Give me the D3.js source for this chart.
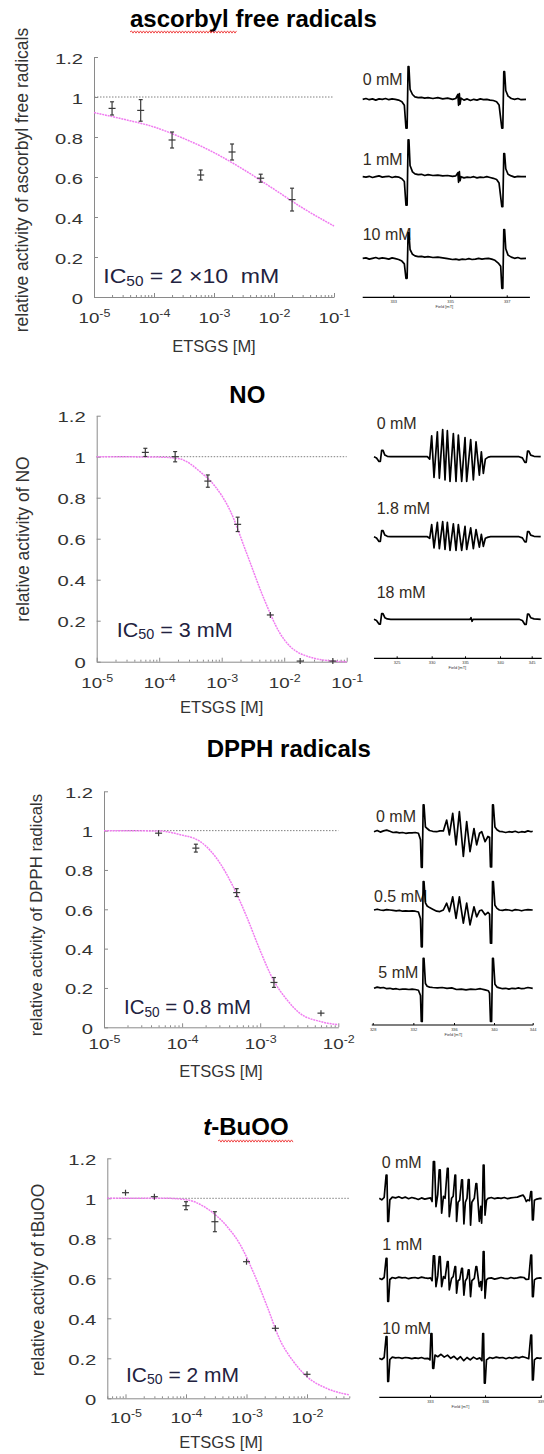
<!DOCTYPE html>
<html>
<head>
<meta charset="utf-8">
<title>ETSGS radical scavenging</title>
<script src="https://cdn.jsdelivr.net/npm/d3@7"></script>
<style>
  body { margin: 0; background: #fff; }
  svg { display: block; font-family: "Liberation Sans", Arial, sans-serif; }
</style>
</head>
<body>
<svg id="fig" width="544" height="1454"></svg>
<script>
// y ticks shared by the four dose-response plots
const yTicks = [0, 0.2, 0.4, 0.6, 0.8, 1, 1.2];

// ascorbyl free radicals
const ascDecades = [-5, -4, -3, -2, -1];
const ascConc = [2e-5, 6e-5, 2e-4, 6e-4, 2e-3, 6e-3, 2e-2];
const ascAct = [0.943, 0.933, 0.785, 0.61, 0.725, 0.594, 0.487];
const ascErr = [0.033, 0.054, 0.04, 0.025, 0.04, 0.02, 0.057];
const ascFitConc = [1e-5, 3e-5, 1e-4, 3e-4, 1e-3, 3e-3, 1e-2, 3e-2, 1e-1];
const ascFitAct = [0.922, 0.89, 0.85, 0.795, 0.722, 0.64, 0.539, 0.445, 0.355];
const ascIC50 = '2 ×10  mM';

// NO
const noDecades = [-5, -4, -3, -2, -1];
const noConc = [6e-5, 1.8e-4, 6e-4, 1.8e-3, 6e-3, 1.8e-2, 6e-2];
const noAct = [1.021, 1.0, 0.881, 0.67, 0.228, 0.003, 0.003];
const noErr = [0.02, 0.025, 0.03, 0.035, 0.01, 0.005, 0.005];
const noFitConc = [1e-5, 1e-4, 2.1e-4, 4.5e-4, 7.9e-4, 1.35e-3, 2.5e-3, 4.7e-3, 8.5e-3, 1.8e-2, 6e-2, 1e-1];
const noFitAct = [1.0, 0.998, 0.99, 0.927, 0.854, 0.74, 0.53, 0.31, 0.14, 0.04, 0.003, 0.0];
const noIC50 = '3 mM';

// DPPH radicals
const dpphDecades = [-5, -4, -3, -2];
const dpphConc = [5e-5, 1.5e-4, 5e-4, 1.5e-3, 6e-3];
const dpphAct = [0.987, 0.911, 0.685, 0.228, 0.072];
const dpphErr = [0.015, 0.02, 0.02, 0.025, 0.01];
const dpphFitConc = [1e-5, 5.2e-5, 9.3e-5, 1.7e-4, 3.05e-4, 4.5e-4, 6.7e-4, 9.9e-4, 1.47e-3, 2.2e-3, 3.2e-3, 5.8e-3, 1e-2];
const dpphFitAct = [1.0, 0.998, 0.98, 0.945, 0.835, 0.716, 0.563, 0.394, 0.241, 0.14, 0.072, 0.03, 0.013];
const dpphIC50 = '0.8 mM';

// t-BuOO
const tbuDecades = [-5, -4, -3, -2];
const tbuConc = [1e-5, 3e-5, 1e-4, 3e-4, 1e-3, 3e-3, 1e-2];
const tbuAct = [1.028, 1.008, 0.963, 0.883, 0.683, 0.35, 0.12];
const tbuErr = [0.015, 0.01, 0.02, 0.05, 0.015, 0.015, 0.012];
const tbuFitConc = [5e-6, 4.9e-5, 1.05e-4, 2.2e-4, 4.8e-4, 7.9e-4, 1.32e-3, 2.2e-3, 3.6e-3, 6e-3, 1e-2, 2.1e-2, 5e-2];
const tbuFitAct = [1.0, 1.0, 0.992, 0.95, 0.858, 0.767, 0.625, 0.458, 0.29, 0.183, 0.108, 0.05, 0.017];
const tbuIC50 = '2 mM';

// ESR spectra: [field position 0-100, intensity a.u.]
const asc0mM = [[0,0],[2,2],[4,-1],[6,1],[8,-2],[10,1],[12,0],[14,2],[16,-1],[18,1],[20,0],[22,-2],[24,-6],[25.5,-15],[26.5,-72],[27.2,-72],[27.8,82],[28.3,82],[29,25],[30.5,12],[32,6],[34,4],[36,5],[38,3],[40,4],[43,2],[46,4],[49,1],[52,3],[55,0],[57,2],[58.3,12],[58.7,-15],[59.2,14],[59.6,-12],[60.2,3],[62,-2],[64,1],[66,-3],[68,0],[70,-2],[72,1],[74,-1],[76,0],[78,-2],[80,-3],[82,-6],[83.5,-14],[85.2,-72],[85.8,-72],[86.4,69],[86.9,69],[87.6,22],[89,8],[91,2],[93,0],[95,2],[97,-1],[100,0]];
const asc1mM = [[0,0],[2,-1],[4,1],[6,-2],[8,0],[10,2],[12,-1],[14,0],[16,1],[18,-2],[20,0],[22,-1],[24,-5],[25.5,-12],[26.5,-71],[27.2,-71],[27.8,92],[28.3,92],[29,28],[30.5,12],[32,7],[34,5],[36,6],[38,3],[40,5],[43,3],[46,4],[49,2],[52,3],[55,1],[57,2],[58.3,10],[58.7,-14],[59.2,13],[59.6,-10],[60.2,0],[62,-3],[64,-1],[66,-2],[68,0],[70,-3],[72,-1],[74,-2],[76,0],[78,-2],[80,-4],[82,-7],[83.5,-16],[85.2,-75],[85.8,-75],[86.4,58],[86.9,58],[87.6,20],[89,6],[91,2],[93,-1],[95,1],[97,0],[100,0]];
const asc10mM = [[0,0],[2,1],[4,-2],[6,0],[8,2],[10,-1],[12,1],[14,0],[16,-2],[18,1],[20,-1],[22,-3],[24,-7],[25.5,-14],[26.5,-50],[27.2,-50],[27.8,64],[28.3,64],[29,22],[30.5,10],[32,6],[34,4],[36,5],[38,3],[40,4],[43,2],[46,3],[49,1],[52,-1],[55,-3],[57,-2],[59,-4],[61,-2],[63,-3],[65,-1],[67,-3],[69,-2],[71,0],[73,-2],[75,-1],[77,0],[79,-2],[81,-5],[83,-12],[84.5,-20],[85.2,-75],[85.8,-75],[86.4,72],[86.9,72],[87.6,24],[89,8],[91,3],[93,0],[95,2],[97,-1],[100,0]];

const no0mM = [[0,0],[1.5,-3],[3,-12],[3.8,-12],[4.6,16],[5.4,16],[6.5,4],[8,1],[10,0],[32,0],[33.4,-6],[34.6,52],[36,-52],[38,62],[39.2,-54],[41.2,68],[42.6,-58],[44,65],[45.6,-62],[47.6,58],[49.2,-62],[50.6,54],[52.6,-62],[54.6,48],[55.6,-62],[58,43],[59.6,-58],[61.2,37],[63.2,-46],[64.4,12],[65.6,-42],[66.8,-6],[68.5,-1],[70,0],[87,0],[89,-3],[90.5,-14],[91.3,-14],[92.1,14],[92.9,14],[94,4],[96,1],[100,0]];
const no1p8mM = [[0,0],[1.5,-3],[3,-12],[3.8,-12],[4.6,15],[5.4,15],[6.5,4],[8,1],[10,0],[32,0],[33.4,-4],[34.6,30],[36,-28],[38,36],[39.2,-30],[41.2,38],[42.6,-32],[44,36],[45.6,-34],[47.6,32],[49.2,-34],[50.6,30],[52.6,-34],[54.6,26],[55.6,-32],[58,22],[59.6,-30],[61.2,18],[63.2,-26],[64.4,6],[65.6,-24],[66.8,-4],[68.5,-1],[70,0],[87,0],[89,-3],[90.5,-13],[91.3,-13],[92.1,13],[92.9,13],[94,4],[96,1],[100,0]];
const no18mM = [[0,0],[1.5,-3],[3,-12],[3.8,-12],[4.6,14],[5.4,14],[6.5,4],[8,1],[10,0],[57.6,0],[58.2,4],[58.8,-5],[59.4,0],[87,0],[89,-3],[90.5,-13],[91.3,-13],[92.1,13],[92.9,13],[94,4],[96,1],[100,0]];

const dpph0mM = [[0,0],[2,3],[4,-1],[6,2],[8,4],[10,1],[12,-2],[14,-1],[16,-3],[18,-2],[20,-4],[22,-3],[24,-3],[26,-2],[28,-4],[29.3,-20],[29.8,-89],[30.4,-89],[31,67],[31.5,67],[32.4,12],[33.5,8],[35,3],[37,1],[39.5,0],[41.5,2],[43.7,2],[45.8,29],[47.5,-8],[49.6,46],[51.7,-33],[53.8,50],[56.3,-62],[58.4,25],[60.5,-50],[63,8],[64.7,-33],[66.5,-4],[67.9,0],[70,-25],[71.8,-12],[72.8,-14],[73.4,-88],[74.1,-88],[74.7,67],[75.2,67],[76.2,12],[77.5,5],[79,1],[81,0],[83,-2],[85,0],[87,-1],[89,1],[91,-2],[93,0],[95,-1],[97,2],[99,0],[100,1]];
const dpph05mM = [[0,0],[2,2],[4,0],[6,-1],[8,1],[10,0],[12,-1],[14,-2],[16,-1],[18,-3],[20,-2],[22,-3],[24,-2],[26,-3],[28,-5],[29.3,-22],[29.8,-92],[30.4,-92],[31,71],[31.5,71],[32.4,18],[33.5,10],[35,6],[37,2],[39.5,-3],[41.5,-4],[43.7,0],[45.8,17],[47.5,-4],[49.6,33],[51.7,-21],[53.8,33],[56.3,-33],[58.4,17],[60.5,-37],[63,8],[64.7,-17],[66.5,-2],[67.9,0],[70,-12],[71.8,-6],[72.8,-10],[73.4,-83],[74.1,-83],[74.7,71],[75.2,71],[76.2,12],[77.5,4],[79,0],[81,-1],[83,1],[85,0],[87,-2],[89,1],[91,0],[93,-2],[95,0],[97,1],[100,0]];
const dpph5mM = [[0,0],[2,3],[4,1],[6,2],[8,-1],[10,0],[12,-2],[14,-1],[16,-3],[18,-2],[20,-2],[22,-3],[24,-2],[26,-3],[28,-5],[29.3,-18],[29.8,-83],[30.4,-83],[31,75],[31.5,75],[32.4,12],[33.5,5],[35,3],[37,2],[40,1],[43,2],[46,0],[49,1],[52,-3],[55,-2],[58,-4],[61,-2],[64,-3],[67,-1],[70,-4],[72,-6],[72.8,-12],[73.4,-83],[74.1,-83],[74.7,75],[75.2,75],[76.2,10],[77.5,3],[79,1],[81,-1],[83,0],[85,-2],[87,0],[89,-1],[91,1],[93,-1],[95,0],[97,2],[100,0]];

const tbu0mM = [[0,0],[1.5,-4],[3,2],[4.2,58],[4.7,58],[5.2,-58],[5.7,-58],[6.5,-4],[8,3],[10,1],[12,4],[14,0],[16,3],[18,-1],[20,2],[22,0],[24,-3],[26,1],[28,-2],[30,0],[31.5,1],[32.5,-8],[33.3,92],[34,92],[34.9,-21],[36,10],[36.9,71],[37.5,71],[38.4,-37],[39.5,5],[40.5,0],[41.9,75],[42.4,75],[43.1,-46],[44.5,0],[45.5,5],[46.6,58],[47,58],[47.6,-58],[48.5,-10],[49.5,-5],[50.7,46],[51.2,46],[52.1,-64],[53,-10],[54,0],[54.8,47],[55.3,47],[56.2,-67],[57,-10],[58.5,0],[59.5,37],[60,37],[61.6,-58],[62.5,-20],[63,-62],[63.6,0],[64,83],[64.5,83],[65.1,-42],[66,-5],[67,0],[69,2],[71,-1],[73,1],[75,0],[77,2],[79,-1],[81,1],[83,2],[85,3],[87,6],[88.5,8],[89.5,2],[90.5,-8],[91.5,-4],[92.5,-6],[93.3,17],[93.8,17],[94.3,-54],[94.8,-54],[95.5,-5],[97,-2],[99,0],[100,-1]];
const tbu1mM = [[0,0],[1.5,-3],[3,2],[4.2,50],[4.7,50],[5.2,-58],[5.7,-58],[6.5,-3],[8,2],[10,0],[12,3],[14,1],[16,2],[18,-1],[20,1],[22,2],[24,0],[26,3],[28,1],[30,0],[31.5,1],[32.5,-6],[33.3,56],[34,56],[34.9,-21],[36,6],[36.9,54],[37.5,54],[38.4,-21],[39.5,4],[40.5,0],[41.9,42],[42.4,42],[43.1,-29],[44.5,0],[45.5,4],[46.6,29],[47,29],[47.6,-37],[48.5,-6],[49.5,-3],[50.7,25],[51.2,25],[52.1,-42],[53,-6],[54,0],[54.8,21],[55.3,21],[56.2,-46],[57,-6],[58.5,0],[59.5,29],[60,29],[61.6,-21],[62.5,-8],[63,-30],[63.6,0],[64,67],[64.5,67],[65.1,-50],[66,-4],[67,0],[69,1],[71,-2],[73,0],[75,2],[77,0],[79,-1],[81,2],[83,0],[85,1],[87,3],[89,2],[90.5,-3],[92,-2],[93.3,58],[93.8,58],[94.3,-46],[94.8,-46],[95.5,-4],[97,0],[99,1],[100,0]];
const tbu10mM = [[0,0],[1.5,-3],[3,2],[4.2,54],[4.7,54],[5.2,-58],[5.7,-58],[6.5,-3],[8,3],[10,1],[12,2],[14,0],[16,2],[18,1],[20,-1],[22,1],[24,0],[26,2],[28,-1],[30,0],[31.2,-4],[31.8,62],[32.4,62],[32.9,-25],[33.5,-25],[34.3,8],[36,4],[38,10],[40,3],[42,8],[44,0],[46,5],[48,-3],[50,4],[52,-6],[54,2],[56,-4],[58,3],[60,-2],[62,1],[63.2,-6],[63.7,62],[64.2,62],[64.7,-62],[65.2,-62],[66,-4],[68,2],[70,0],[72,3],[74,1],[76,2],[78,-1],[80,2],[82,0],[84,3],[86,1],[88,4],[90,2],[92,-1],[93.3,58],[93.8,58],[94.3,-54],[94.8,-54],[95.5,-4],[97,1],[99,0],[100,1]];

// spectrum field-axis ticks (position 0-100) and their labels
const ascSpecTicks = [18.7, 53.5, 88.2];
const ascSpecTickLabels = ['333', '335', '337'];
const noSpecTicks = [13.6, 34.6, 54.6, 75.6, 94.6];
const noSpecTickLabels = ['325', '330', '335', '340', '345'];
const dpphSpecTicks = [-0.8, 24.8, 50.4, 75.6, 100];
const dpphSpecTickLabels = ['328', '332', '336', '340', '344'];
const tbuSpecTicks = [31.2, 65.1, 99.4];
const tbuSpecTickLabels = ['333', '336', '339'];

const svg = d3.select('#fig');
const AXIS_GREY = '#8a8a8a';
const TEXT_DARK = '#333';

const panels = [
  {
    title: [{ text: 'ascorbyl free radicals' }], titleX: 130, titleY: 26.5, squiggle: [130, 237, 32],
    yLabel: 'relative activity of ascorbyl free radicals', yLabelX: 28, yLabelY: 180, yLabelSize: 17.5,
    left: 94, right: 334, bottom: 297, top: 57, xDomain: [1e-5, 1e-1], decades: ascDecades, tickDy: 26.3,
    xLabelX: 214, xLabelY: 351.7,
    conc: ascConc, act: ascAct, err: ascErr, fitConc: ascFitConc, fitAct: ascFitAct,
    ic50: ascIC50, icX: 103.3, icY: 283.3, icW: 176,
    spec: {
      left: 362.7, right: 526, axisY: 297.3, axisSpan: [0, 102.4], ticks: ascSpecTicks, tickLabels: ascSpecTickLabels,
      traces: [
        { data: asc0mM, base: 99.3, label: '0 mM', lx: 362.7, ly: 85 },
        { data: asc1mM, base: 176.7, label: '1 mM', lx: 362.7, ly: 165 },
        { data: asc10mM, base: 258.3, label: '10 mM', lx: 362.7, ly: 240 }
      ]
    }
  },
  {
    title: [{ text: 'NO' }], titleX: 229.3, titleY: 403.3,
    yLabel: 'relative activity of NO', yLabelX: 29, yLabelY: 539, yLabelSize: 17.5,
    left: 96.7, right: 346.7, bottom: 661.7, top: 415.7, xDomain: [1e-5, 1e-1], decades: noDecades, tickDy: 26.6,
    xLabelX: 221.7, xLabelY: 713,
    conc: noConc, act: noAct, err: noErr, fitConc: noFitConc, fitAct: noFitAct,
    ic50: noIC50, icX: 116.7, icY: 636.7, icW: 116,
    spec: {
      left: 374, right: 540.7, axisY: 658.3, axisSpan: [0, 100.6], ticks: noSpecTicks, tickLabels: noSpecTickLabels,
      traces: [
        { data: no0mM, base: 456.7, label: '0 mM', lx: 376.7, ly: 429.3 },
        { data: no1p8mM, base: 536.7, label: '1.8 mM', lx: 376.7, ly: 514.3 },
        { data: no18mM, base: 619.3, label: '18 mM', lx: 376.7, ly: 597.7 }
      ]
    }
  },
  {
    title: [{ text: 'DPPH radicals' }], titleX: 206.7, titleY: 757,
    yLabel: 'relative activity of DPPH radicals', yLabelX: 42, yLabelY: 915, yLabelSize: 16.8,
    left: 104, right: 338.3, bottom: 1027.3, top: 791.3, xDomain: [1e-5, 1e-2], decades: dpphDecades, tickDy: 22,
    xLabelX: 221, xLabelY: 1076.7,
    conc: dpphConc, act: dpphAct, err: dpphErr, fitConc: dpphFitConc, fitAct: dpphFitAct,
    ic50: dpphIC50, icX: 124, icY: 1014, icW: 127,
    spec: {
      left: 374, right: 532.7, axisY: 1025, axisSpan: [-1.4, 100.4], ticks: dpphSpecTicks, tickLabels: dpphSpecTickLabels,
      traces: [
        { data: dpph0mM, base: 831.7, label: '0 mM', lx: 376, ly: 821.7 },
        { data: dpph05mM, base: 910, label: '0.5 mM', lx: 374, ly: 901.7 },
        { data: dpph5mM, base: 988.3, label: '5 mM', lx: 378.3, ly: 978.3 }
      ]
    }
  },
  {
    title: [{ text: 't', italic: true }, { text: '-BuOO' }], titleX: 203.3, titleY: 1135, squiggle: [218, 293, 1141],
    yLabel: 'relative activity of tBuOO', yLabelX: 44, yLabelY: 1280, yLabelSize: 17.5,
    left: 107.3, right: 349.3, bottom: 1398.3, top: 1158.3, xDomain: [5e-6, 5e-2], decades: tbuDecades, tickDy: 25,
    xLabelX: 221, xLabelY: 1448.3,
    conc: tbuConc, act: tbuAct, err: tbuErr, fitConc: tbuFitConc, fitAct: tbuFitAct,
    ic50: tbuIC50, icX: 126, icY: 1381.7, icW: 113,
    spec: {
      left: 379.3, right: 541.7, axisY: 1397.3, axisSpan: [0, 100], ticks: tbuSpecTicks, tickLabels: tbuSpecTickLabels,
      traces: [
        { data: tbu0mM, base: 1198.3, label: '0 mM', lx: 381.7, ly: 1168.3 },
        { data: tbu1mM, base: 1278.3, label: '1 mM', lx: 382.3, ly: 1250 },
        { data: tbu10mM, base: 1358.3, label: '10 mM', lx: 382.3, ly: 1334.3 }
      ]
    }
  }
];

// red spell-check wave under a title word
const drawSquiggle = ([x0, x1, yb]) => {
  let d = `M${x0},${yb}`;
  for (let x = x0 + 1.5, up = true; x <= x1; x += 1.5, up = !up) {
    d += `L${x},${yb + (up ? -1.1 : 1.1)}`;
  }
  svg.append('path').attr('d', d).attr('fill', 'none').attr('stroke', '#e33').attr('stroke-width', 0.9);
};

const drawDoseResponse = (p) => {
  const x = d3.scaleLog().domain(p.xDomain).range([p.left, p.right]);
  const y = d3.scaleLinear().domain([0, 1.2]).range([p.bottom, p.top]);
  const g = svg.append('g');

  // title
  const tt = g.append('text').attr('x', p.titleX).attr('y', p.titleY)
    .attr('font-size', 24).attr('font-weight', 'bold').attr('fill', '#000');
  p.title.forEach((s) => tt.append('tspan').attr('font-style', s.italic ? 'italic' : null).text(s.text));
  if (p.squiggle) drawSquiggle(p.squiggle);

  // minor log ticks
  const majors = p.decades.map((e) => Math.pow(10, e));
  const minors = x.ticks().filter((v) => !majors.some((m) => Math.abs(v / m - 1) < 1e-6));
  g.append('g').attr('transform', `translate(0,${p.bottom})`)
    .call(d3.axisBottom(x).tickValues(minors).tickSize(-2).tickFormat(''))
    .call((a) => a.select('.domain').remove())
    .call((a) => a.selectAll('line').attr('stroke', AXIS_GREY));

  // major x axis with 10^n labels
  const xa = g.append('g').attr('transform', `translate(0,${p.bottom})`)
    .call(d3.axisBottom(x).tickValues(majors).tickSize(-4).tickSizeOuter(0).tickFormat(''))
    .attr('font-family', null).attr('font-size', null);
  xa.select('.domain').attr('stroke', AXIS_GREY);
  xa.selectAll('line').attr('stroke', AXIS_GREY);
  xa.selectAll('.tick text').each(function (d, i) {
    const t = d3.select(this)
      .attr('y', null).attr('dy', null)
      .attr('transform', `translate(0,${p.tickDy}) scale(1.25,1)`)
      .attr('fill', TEXT_DARK).attr('font-size', 15).attr('text-anchor', 'middle');
    t.text(null);
    t.append('tspan').text('10');
    t.append('tspan').attr('dy', -6.5).attr('font-size', 10).text(String(p.decades[i]));
  });

  // y axis
  const ya = g.append('g').attr('transform', `translate(${p.left},0)`)
    .call(d3.axisLeft(y).tickValues(yTicks).tickSize(-4).tickSizeOuter(0).tickFormat((d) => String(d)))
    .attr('font-family', null).attr('font-size', null);
  ya.select('.domain').attr('stroke', AXIS_GREY);
  ya.selectAll('line').attr('stroke', AXIS_GREY);
  ya.selectAll('text').attr('x', -11 / 1.35).attr('dy', '0.4em').attr('transform', 'scale(1.35,1)')
    .attr('font-size', 15).attr('fill', TEXT_DARK);

  // axis titles
  g.append('text').attr('x', p.xLabelX).attr('y', p.xLabelY).attr('text-anchor', 'middle')
    .attr('font-size', 16.5).attr('fill', TEXT_DARK).text('ETSGS [M]');
  g.append('text').attr('transform', `translate(${p.yLabelX},${p.yLabelY}) rotate(-90)`)
    .attr('text-anchor', 'middle').attr('font-size', p.yLabelSize).attr('fill', TEXT_DARK).text(p.yLabel);

  // reference line at 1
  g.append('line').attr('x1', p.left).attr('x2', p.right).attr('y1', y(1)).attr('y2', y(1))
    .attr('stroke', '#808080').attr('stroke-width', 1).attr('stroke-dasharray', '1.5,1.5');

  // fitted curve
  const fit = p.fitConc.map((c, i) => [c, p.fitAct[i]]);
  g.append('path').datum(fit)
    .attr('d', d3.line().x((d) => x(d[0])).y((d) => y(d[1])).curve(d3.curveMonotoneX))
    .attr('fill', 'none').attr('stroke', '#f07cf0').attr('stroke-width', 1.5).attr('stroke-dasharray', '2,0.8');

  // data with error bars
  const pts = p.conc.map((c, i) => ({ c, a: p.act[i], e: p.err[i] }));
  const mk = g.append('g').attr('stroke', '#3a3a3a').attr('stroke-width', 1.2).attr('fill', 'none');
  pts.forEach((d) => {
    const cx = x(d.c), cy = y(d.a), lo = y(d.a - d.e), hi = y(d.a + d.e);
    mk.append('line').attr('x1', cx).attr('x2', cx).attr('y1', Math.max(lo, cy + 3)).attr('y2', Math.min(hi, cy - 3));
    mk.append('line').attr('x1', cx - 3.5).attr('x2', cx + 3.5).attr('y1', cy).attr('y2', cy);
    [lo, hi].forEach((yy) => {
      if (Math.abs(yy - cy) > 3) mk.append('line').attr('x1', cx - 2).attr('x2', cx + 2).attr('y1', yy).attr('y2', yy);
    });
  });

  // IC50 annotation
  const ic = g.append('text').attr('x', p.icX).attr('y', p.icY).attr('font-size', 21).attr('fill', '#222240')
    .attr('textLength', p.icW).attr('lengthAdjust', 'spacingAndGlyphs').style('white-space', 'pre');
  ic.append('tspan').text('IC');
  ic.append('tspan').attr('font-size', 14).attr('dy', 2.5).text('50');
  ic.append('tspan').attr('dy', -2.5).text(' = ' + p.ic50);
};

const drawSpectra = (s) => {
  const x = d3.scaleLinear().domain([0, 100]).range([s.left, s.right]);
  const line = (y) => d3.line().x((d) => x(d[0])).y((d) => y(d[1]));

  s.traces.forEach((tr) => {
    svg.append('text').attr('x', tr.lx).attr('y', tr.ly).attr('font-size', 16).attr('fill', '#332b22').text(tr.label);
    const y = d3.scaleLinear().domain([-100, 100]).range([tr.base + 40, tr.base - 40]);
    svg.append('path').datum(tr.data).attr('d', line(y))
      .attr('fill', 'none').attr('stroke', '#000').attr('stroke-width', 1.7).attr('stroke-linejoin', 'round');
  });

  // field axis
  const ax = svg.append('g').attr('transform', `translate(0,${s.axisY})`)
    .call(d3.axisBottom(x).tickValues(s.ticks).tickSize(-2).tickSizeOuter(0).tickFormat((d, i) => s.tickLabels[i]))
    .attr('font-family', null).attr('font-size', null);
  ax.select('.domain').remove();
  ax.selectAll('line').attr('stroke', '#000');
  ax.selectAll('text').attr('font-size', 4).attr('fill', TEXT_DARK);
  ax.append('line').attr('x1', x(s.axisSpan[0])).attr('x2', x(s.axisSpan[1]))
    .attr('stroke', '#000').attr('stroke-width', 1.2);
  ax.append('text').attr('x', x(50)).attr('y', 11).attr('text-anchor', 'middle')
    .attr('font-size', 4).attr('fill', TEXT_DARK).text('Field [mT]');
};

panels.forEach((p) => {
  drawDoseResponse(p);
  drawSpectra(p.spec);
});
</script>
</body>
</html>
